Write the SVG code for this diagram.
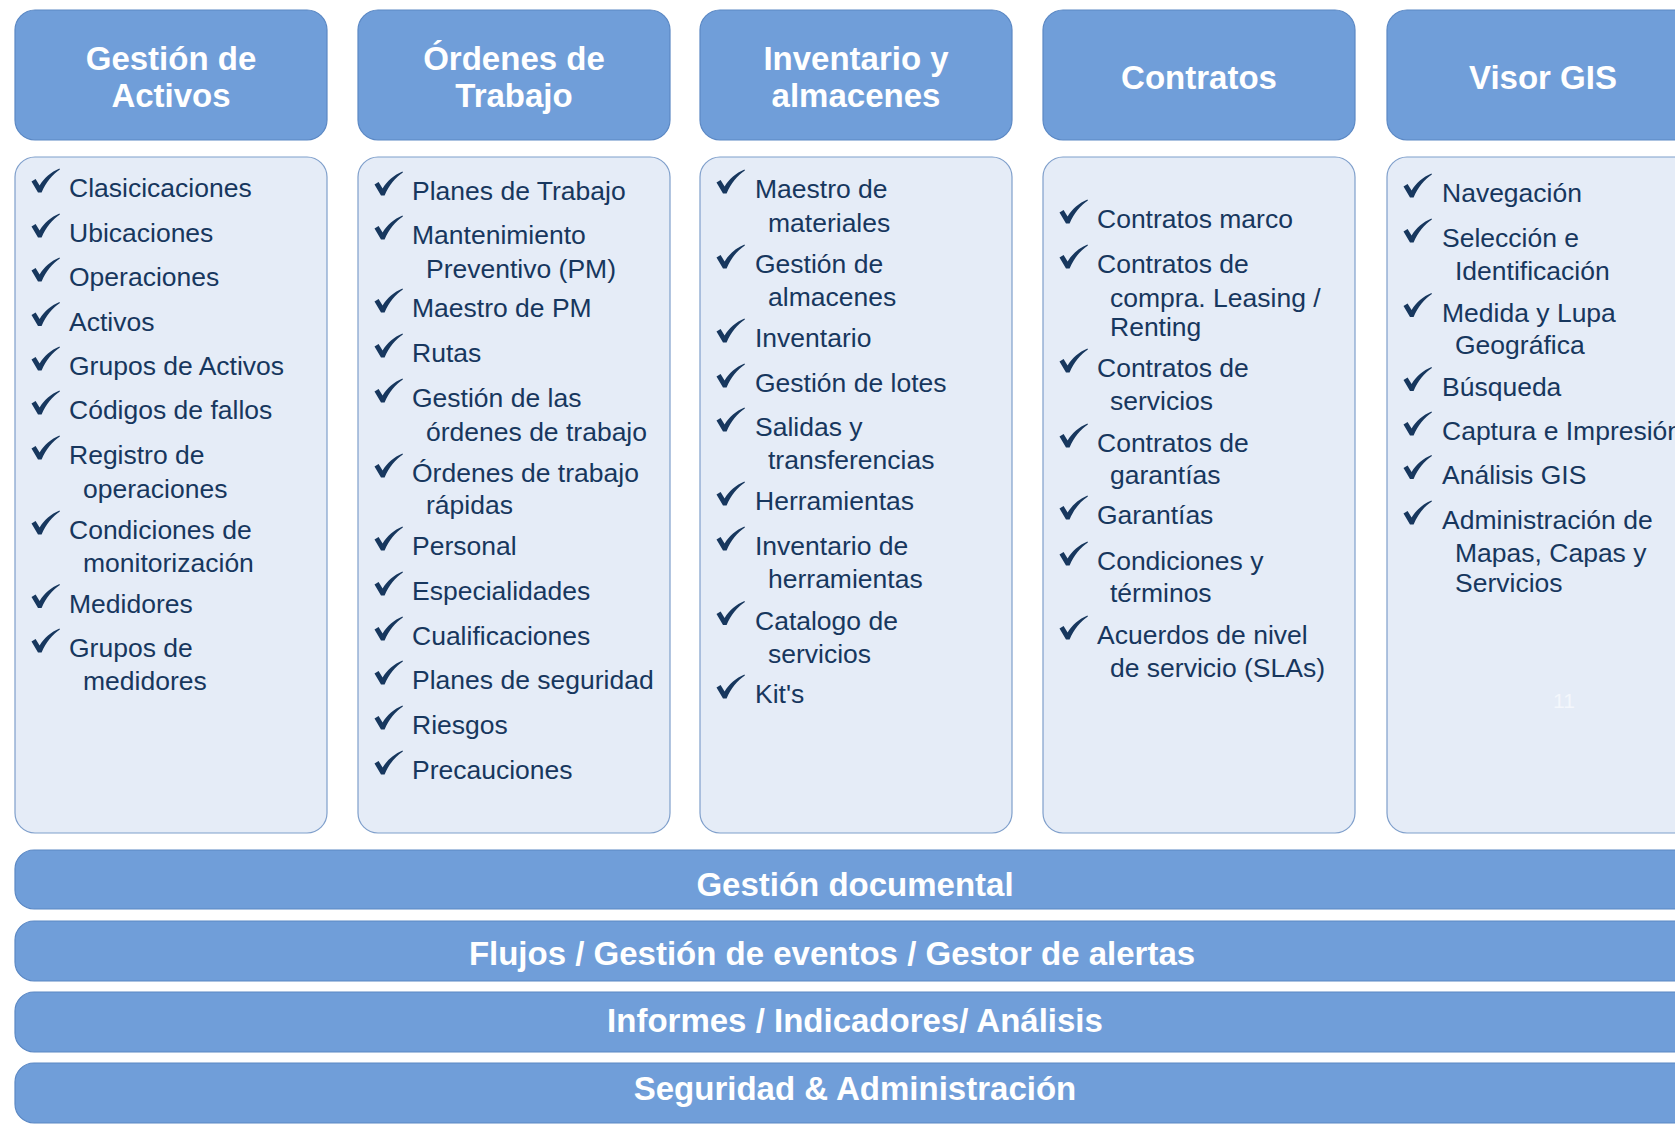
<svg xmlns="http://www.w3.org/2000/svg" xmlns:xlink="http://www.w3.org/1999/xlink" width="1675" height="1137" viewBox="0 0 1675 1137">
<style>
.hd{fill:#709ED9;stroke:#5B88C4;stroke-width:1.2}
.bx{fill:#E5ECF7;stroke:#7F9FCB;stroke-width:1.2}
.ht{font-family:"Liberation Sans",Arial,sans-serif;font-weight:bold;font-size:33px;fill:#FFFFFF;text-anchor:middle}
.it{font-family:"Liberation Sans",Arial,sans-serif;font-size:26.5px;fill:#17375E}
.pg{font-family:"Liberation Sans",Arial,sans-serif;font-size:21px;fill:#F4F7FC;text-anchor:middle}
</style>
<defs>
<path id="ck" fill="#17375E" d="M0.5,13.5 L4.6,11 L8.6,17.6 C13,10 20,4 28.5,0.5 L28.9,1.4 C21.5,6.2 15,14 10.6,24.5 L7,24.5 Z"/>
</defs>
<rect width="1675" height="1137" fill="#FFFFFF"/>

<g id="col-activos">
<rect class="hd" x="15" y="10" width="312" height="130" rx="20"/>
<text class="ht" x="171" y="70">Gestión de</text>
<text class="ht" x="171" y="107">Activos</text>
<rect class="bx" x="15" y="157" width="312" height="676" rx="20"/>
<use href="#ck" x="31" y="168"/><text class="it" x="69" y="197">Clasicicaciones</text>
<use href="#ck" x="31" y="213"/><text class="it" x="69" y="242">Ubicaciones</text>
<use href="#ck" x="31" y="257"/><text class="it" x="69" y="286">Operaciones</text>
<use href="#ck" x="31" y="301.5"/><text class="it" x="69" y="330.5">Activos</text>
<use href="#ck" x="31" y="346"/><text class="it" x="69" y="375">Grupos de Activos</text>
<use href="#ck" x="31" y="390"/><text class="it" x="69" y="419">Códigos de fallos</text>
<use href="#ck" x="31" y="435"/><text class="it" x="69" y="464">Registro de</text>
<text class="it" x="83" y="498">operaciones</text>
<use href="#ck" x="31" y="510"/><text class="it" x="69" y="539">Condiciones de</text>
<text class="it" x="83" y="572">monitorización</text>
<use href="#ck" x="31" y="583.5"/><text class="it" x="69" y="612.5">Medidores</text>
<use href="#ck" x="31" y="628"/><text class="it" x="69" y="657">Grupos de</text>
<text class="it" x="83" y="690">medidores</text>
</g>

<g id="col-ordenes">
<rect class="hd" x="358" y="10" width="312" height="130" rx="20"/>
<text class="ht" x="514" y="70">Órdenes de</text>
<text class="ht" x="514" y="107">Trabajo</text>
<rect class="bx" x="358" y="157" width="312" height="676" rx="20"/>
<use href="#ck" x="374" y="171"/><text class="it" x="412" y="200">Planes de Trabajo</text>
<use href="#ck" x="374" y="215"/><text class="it" x="412" y="244">Mantenimiento</text>
<text class="it" x="426" y="278">Preventivo (PM)</text>
<use href="#ck" x="374" y="288"/><text class="it" x="412" y="317">Maestro de PM</text>
<use href="#ck" x="374" y="333"/><text class="it" x="412" y="362">Rutas</text>
<use href="#ck" x="374" y="378"/><text class="it" x="412" y="407">Gestión de las</text>
<text class="it" x="426" y="441">órdenes de trabajo</text>
<use href="#ck" x="374" y="453"/><text class="it" x="412" y="482">Órdenes de trabajo</text>
<text class="it" x="426" y="514">rápidas</text>
<use href="#ck" x="374" y="526"/><text class="it" x="412" y="555">Personal</text>
<use href="#ck" x="374" y="571"/><text class="it" x="412" y="600">Especialidades</text>
<use href="#ck" x="374" y="616"/><text class="it" x="412" y="645">Cualificaciones</text>
<use href="#ck" x="374" y="660"/><text class="it" x="412" y="689">Planes de seguridad</text>
<use href="#ck" x="374" y="705"/><text class="it" x="412" y="734">Riesgos</text>
<use href="#ck" x="374" y="750"/><text class="it" x="412" y="779">Precauciones</text>
</g>

<g id="col-inventario">
<rect class="hd" x="700" y="10" width="312" height="130" rx="20"/>
<text class="ht" x="856" y="70">Inventario y</text>
<text class="ht" x="856" y="107">almacenes</text>
<rect class="bx" x="700" y="157" width="312" height="676" rx="20"/>
<use href="#ck" x="716" y="169"/><text class="it" x="755" y="198">Maestro de</text>
<text class="it" x="768" y="232">materiales</text>
<use href="#ck" x="716" y="244"/><text class="it" x="755" y="273">Gestión de</text>
<text class="it" x="768" y="306">almacenes</text>
<use href="#ck" x="716" y="318"/><text class="it" x="755" y="347">Inventario</text>
<use href="#ck" x="716" y="363"/><text class="it" x="755" y="392">Gestión de lotes</text>
<use href="#ck" x="716" y="407"/><text class="it" x="755" y="436">Salidas y</text>
<text class="it" x="768" y="469">transferencias</text>
<use href="#ck" x="716" y="481"/><text class="it" x="755" y="510">Herramientas</text>
<use href="#ck" x="716" y="526"/><text class="it" x="755" y="555">Inventario de</text>
<text class="it" x="768" y="588">herramientas</text>
<use href="#ck" x="716" y="600.5"/><text class="it" x="755" y="629.5">Catalogo de</text>
<text class="it" x="768" y="663">servicios</text>
<use href="#ck" x="716" y="674"/><text class="it" x="755" y="703">Kit's</text>
</g>

<g id="col-contratos">
<rect class="hd" x="1043" y="10" width="312" height="130" rx="20"/>
<text class="ht" x="1199" y="88.5">Contratos</text>
<rect class="bx" x="1043" y="157" width="312" height="676" rx="20"/>
<use href="#ck" x="1059" y="199"/><text class="it" x="1097" y="228">Contratos marco</text>
<use href="#ck" x="1059" y="244"/><text class="it" x="1097" y="273">Contratos de</text>
<text class="it" x="1110" y="307">compra. Leasing /</text>
<text class="it" x="1110" y="336">Renting</text>
<use href="#ck" x="1059" y="348"/><text class="it" x="1097" y="377">Contratos de</text>
<text class="it" x="1110" y="410">servicios</text>
<use href="#ck" x="1059" y="423"/><text class="it" x="1097" y="452">Contratos de</text>
<text class="it" x="1110" y="484">garantías</text>
<use href="#ck" x="1059" y="495"/><text class="it" x="1097" y="524">Garantías</text>
<use href="#ck" x="1059" y="541"/><text class="it" x="1097" y="570">Condiciones y</text>
<text class="it" x="1110" y="602">términos</text>
<use href="#ck" x="1059" y="615"/><text class="it" x="1097" y="644">Acuerdos de nivel</text>
<text class="it" x="1110" y="677">de servicio (SLAs)</text>
</g>

<g id="col-gis">
<rect class="hd" x="1387" y="10" width="312" height="130" rx="20"/>
<text class="ht" x="1543" y="88.5">Visor GIS</text>
<rect class="bx" x="1387" y="157" width="312" height="676" rx="20"/>
<use href="#ck" x="1403" y="173"/><text class="it" x="1442" y="202">Navegación</text>
<use href="#ck" x="1403" y="218"/><text class="it" x="1442" y="247">Selección e</text>
<text class="it" x="1455" y="280">Identificación</text>
<use href="#ck" x="1403" y="292.5"/><text class="it" x="1442" y="321.5">Medida y Lupa</text>
<text class="it" x="1455" y="353.5">Geográfica</text>
<use href="#ck" x="1403" y="366.5"/><text class="it" x="1442" y="395.5">Búsqueda</text>
<use href="#ck" x="1403" y="411"/><text class="it" x="1442" y="440">Captura e Impresión</text>
<use href="#ck" x="1403" y="454.5"/><text class="it" x="1442" y="483.5">Análisis GIS</text>
<use href="#ck" x="1403" y="500"/><text class="it" x="1442" y="529">Administración de</text>
<text class="it" x="1455" y="562">Mapas, Capas y</text>
<text class="it" x="1455" y="592">Servicios</text>
<text class="pg" x="1564" y="708">11</text>
</g>

<g id="bar-documental">
<rect class="hd" x="15" y="850" width="1680" height="59" rx="19"/>
<text class="ht" x="855" y="896">Gestión documental</text>
</g>
<g id="bar-flujos">
<rect class="hd" x="15" y="921" width="1680" height="60" rx="19"/>
<text class="ht" x="832" y="964.5">Flujos / Gestión de eventos / Gestor de alertas</text>
</g>
<g id="bar-informes">
<rect class="hd" x="15" y="992" width="1680" height="60" rx="19"/>
<text class="ht" x="855" y="1032">Informes / Indicadores/ Análisis</text>
</g>
<g id="bar-seguridad">
<rect class="hd" x="15" y="1063" width="1680" height="60" rx="19"/>
<text class="ht" x="855" y="1100">Seguridad &amp; Administración</text>
</g>

<g id="connectors"></g>
</svg>
